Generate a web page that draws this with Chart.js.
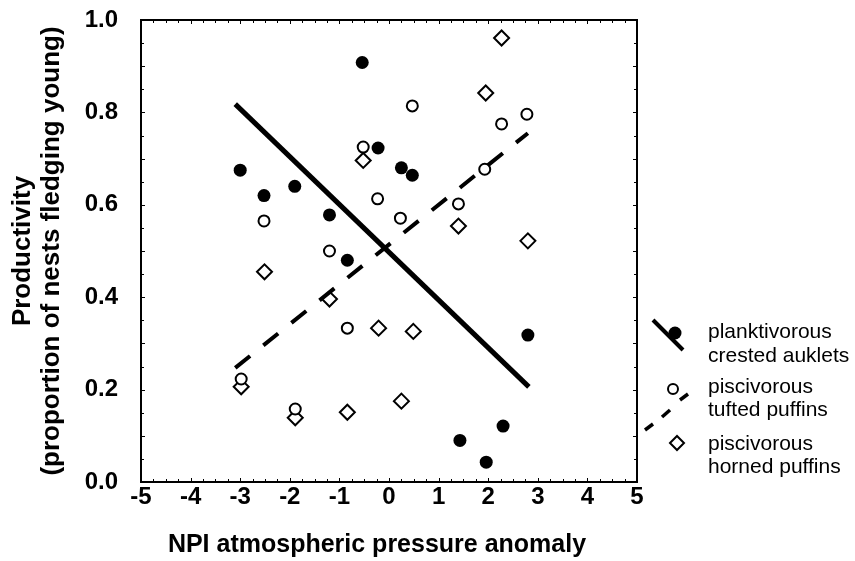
<!DOCTYPE html>
<html>
<head>
<meta charset="utf-8">
<script src="https://cdn.jsdelivr.net/npm/chart.js@4/dist/chart.umd.min.js"></script>
<style>
  html, body { margin: 0; padding: 0; background: #fff; }
  #wrap { width: 855px; height: 561px; }
</style>
</head>
<body>
<div id="wrap"><canvas id="c" width="855" height="561"></canvas></div>
<script>
// ---- data ----
const xTicks = [-5, -4, -3, -2, -1, 0, 1, 2, 3, 4, 5];
const yTicks = [0.0, 0.2, 0.4, 0.6, 0.8, 1.0];

const aukletsX = [-3.0, -2.52, -1.9, -1.2, -0.84, -0.54, -0.22, 0.25, 0.47, 2.8, 1.43, 1.96, 2.3];
const aukletsY = [0.675, 0.62, 0.64, 0.578, 0.48, 0.908, 0.723, 0.68, 0.664, 0.318, 0.09, 0.043, 0.121];

const tuftedX = [-2.98, -2.52, -1.89, -1.2, -0.84, -0.52, -0.23, 0.23, 0.47, 1.4, 1.93, 2.27, 2.78];
const tuftedY = [0.223, 0.565, 0.158, 0.5, 0.333, 0.725, 0.613, 0.571, 0.814, 0.602, 0.677, 0.775, 0.796];

const hornedX = [-2.98, -2.51, -1.89, -1.2, -0.84, -0.52, -0.21, 0.25, 0.49, 1.4, 1.95, 2.27, 2.8];
const hornedY = [0.206, 0.455, 0.139, 0.396, 0.151, 0.696, 0.333, 0.175, 0.326, 0.554, 0.842, 0.961, 0.522];

const aukletFitX = [-3.1, 2.82];
const aukletFitY = [0.818, 0.206];
const tuftedFitX = [-3.1, 2.8];
const tuftedFitY = [0.247, 0.755];

const legendLabels = [
  ['planktivorous', 'crested auklets'],
  ['piscivorous', 'tufted puffins'],
  ['piscivorous', 'horned puffins']
];
const xTitle = 'NPI atmospheric pressure anomaly';
const yTitle = ['Productivity', '(proportion of nests fledging young)'];

const pts = (xs, ys) => xs.map((x, i) => ({ x: x, y: ys[i] }));
const FONT = '"Liberation Sans", Arial, Helvetica, sans-serif';

Chart.defaults.font.family = FONT;
Chart.defaults.color = '#000';

// frame, inward minor ticks, x title and custom legend
const framePlugin = {
  id: 'frame',
  beforeDatasetsDraw(chart) {
    const { ctx, chartArea: a, scales } = chart;
    const xs = scales.x, ys = scales.y;
    ctx.save();
    ctx.strokeStyle = '#000';
    ctx.lineWidth = 1;
    for (let i = 0; i <= 40; i++) {
      const v = -5 + i * 0.25;
      const px = Math.round(xs.getPixelForValue(v)) + 0.5;
      const len = (i % 4 === 0) ? 4 : 3;
      ctx.beginPath();
      ctx.moveTo(px, a.bottom); ctx.lineTo(px, a.bottom - len);
      ctx.moveTo(px, a.top); ctx.lineTo(px, a.top + len);
      ctx.stroke();
    }
    for (let i = 0; i <= 20; i++) {
      const v = i * 0.05;
      const py = Math.round(ys.getPixelForValue(v)) + 0.5;
      const len = (i % 2 === 0) ? 4 : 3;
      ctx.beginPath();
      ctx.moveTo(a.left, py); ctx.lineTo(a.left + len, py);
      ctx.moveTo(a.right, py); ctx.lineTo(a.right - len, py);
      ctx.stroke();
    }
    ctx.lineWidth = 2;
    ctx.strokeRect(a.left, a.top, a.right - a.left, a.bottom - a.top);
    ctx.restore();
  },
  afterDraw(chart) {
    const ctx = chart.ctx;
    ctx.save();
    ctx.strokeStyle = '#000';
    ctx.fillStyle = '#000';
    // x axis title
    ctx.font = 'bold 25px ' + FONT;
    ctx.textAlign = 'center';
    ctx.textBaseline = 'middle';
    ctx.fillText(xTitle, 377, 545);
    // legend item 1: solid line + filled circle
    ctx.lineWidth = 4;
    ctx.lineCap = 'butt';
    ctx.beginPath(); ctx.moveTo(653, 320); ctx.lineTo(683, 350); ctx.stroke();
    ctx.beginPath(); ctx.arc(675, 333, 6.5, 0, Math.PI * 2); ctx.fill();
    // item 2: dashed segments + open circle
    ctx.lineWidth = 3.5;
    const dashes = [[680, 400, 688, 394], [662, 417, 670, 410], [645, 430, 653, 424]];
    dashes.forEach(d => { ctx.beginPath(); ctx.moveTo(d[0], d[1]); ctx.lineTo(d[2], d[3]); ctx.stroke(); });
    ctx.lineWidth = 2;
    ctx.beginPath(); ctx.arc(673, 389, 5, 0, Math.PI * 2); ctx.stroke();
    // item 3: diamond
    ctx.beginPath();
    ctx.moveTo(677 - 7, 443); ctx.lineTo(677, 443 - 7); ctx.lineTo(677 + 7, 443); ctx.lineTo(677, 443 + 7);
    ctx.closePath(); ctx.stroke();
    // texts
    ctx.font = '21px ' + FONT;
    ctx.textBaseline = 'middle';
    ctx.textAlign = 'left';
    const ys = [[332, 356], [387, 410], [444, 467]];
    legendLabels.forEach((lines, i) => {
      lines.forEach((t, j) => ctx.fillText(t, 708, ys[i][j]));
    });
    ctx.restore();
  }
};

new Chart(document.getElementById('c'), {
  type: 'scatter',
  data: {
    datasets: [
      {
        label: 'auklet fit', data: pts(aukletFitX, aukletFitY), showLine: true,
        borderColor: '#000', borderWidth: 5, pointRadius: 0, borderCapStyle: 'butt', order: 0
      },
      {
        label: 'tufted fit', data: pts(tuftedFitX, tuftedFitY), showLine: true,
        borderColor: '#000', borderWidth: 4, borderDash: [19, 17], pointRadius: 0, borderCapStyle: 'butt', order: 0
      },
      {
        label: 'planktivorous crested auklets', data: pts(aukletsX, aukletsY),
        pointStyle: 'circle', pointRadius: 6.5, backgroundColor: '#000', borderColor: '#000', borderWidth: 0, order: 1
      },
      {
        label: 'piscivorous tufted puffins', data: pts(tuftedX, tuftedY),
        pointStyle: 'circle', pointRadius: 5.5, backgroundColor: '#fff', borderColor: '#000', borderWidth: 2, order: 1
      },
      {
        label: 'piscivorous horned puffins', data: pts(hornedX, hornedY),
        pointStyle: 'rectRot', pointRadius: 7.5, backgroundColor: '#fff', borderColor: '#000', borderWidth: 2, order: 1
      }
    ]
  },
  options: {
    responsive: false,
    devicePixelRatio: 1,
    animation: false,
    events: [],
    layout: { padding: { top: 20, right: 218, left: 0, bottom: 0 } },
    plugins: { legend: { display: false }, tooltip: { enabled: false } },
    scales: {
      x: {
        type: 'linear', min: -5, max: 5,
        afterBuildTicks: (s) => { s.ticks = xTicks.map(v => ({ value: v })); },
        afterFit: (s) => { s.height = 79; s.paddingLeft = 0; s.paddingRight = 0; },
        grid: { display: false, drawTicks: false },
        border: { display: false },
        ticks: { font: { size: 24, weight: 'bold' }, color: '#000', padding: 1, maxRotation: 0,
                 callback: (v) => String(v) },
        title: { display: false, text: xTitle }
      },
      y: {
        type: 'linear', min: 0, max: 1,
        afterBuildTicks: (s) => { s.ticks = yTicks.map(v => ({ value: v })); },
        afterFit: (s) => { s.width = 141; s.paddingTop = 0; s.paddingBottom = 0; },
        grid: { display: false, drawTicks: false },
        border: { display: false },
        ticks: { font: { size: 24, weight: 'bold' }, color: '#000', padding: 23,
                 callback: (v) => Number(v).toFixed(1) },
        title: { display: true, text: yTitle, font: { size: 26, weight: 'bold', lineHeight: 1.12 }, color: '#000',
                 padding: { top: 8, bottom: 0 } }
      }
    }
  },
  plugins: [framePlugin]
});
</script>
</body>
</html>
